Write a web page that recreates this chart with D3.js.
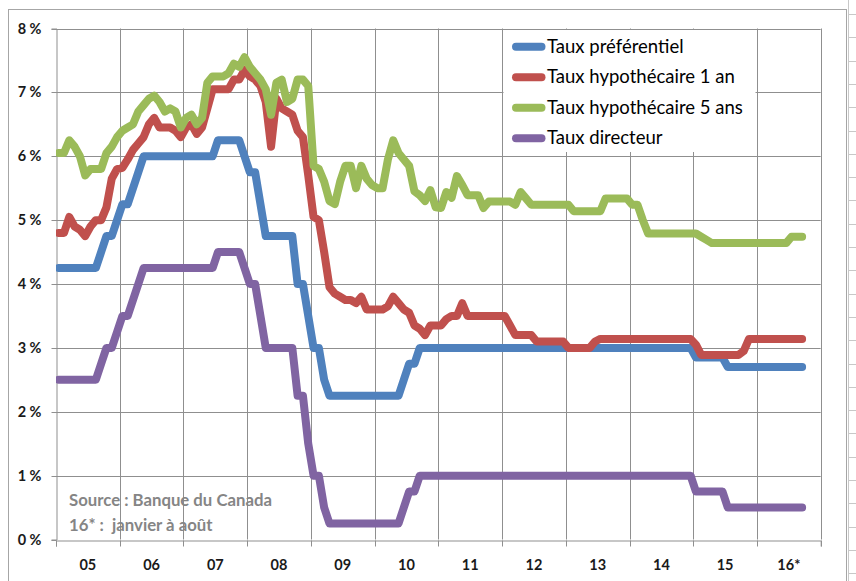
<!DOCTYPE html>
<html>
<head>
<meta charset="utf-8">
<script src="https://cdn.jsdelivr.net/npm/d3@7"></script>
<style>
  html, body { margin: 0; padding: 0; background: #fff; }
  svg { display: block; }
</style>
</head>
<body>
<svg id="chart" width="856" height="581"></svg>
<script>
// ---------------- DATA ----------------
// Monthly values, January 2005 onward (one row per year)
const startYear = 2005;
const yearLabels = ["05","06","07","08","09","10","11","12","13","14","15","16*"];
const yTickValues = [0,1,2,3,4,5,6,7,8];
const yTickLabels = ["0 %","1 %","2 %","3 %","4 %","5 %","6 %","7 %","8 %"];
const seriesNames = ["Taux préférentiel","Taux hypothécaire 1 an","Taux hypothécaire 5 ans","Taux directeur"];
const seriesColors = ["#4F81BD","#C0504D","#9BBB59","#8064A2"];

const tauxPreferentiel = [
  4.25,4.25,4.25,4.25,4.25,4.25,4.25,4.25,4.5,4.75,4.75,5.0,
  5.25,5.25,5.5,5.75,6.0,6.0,6.0,6.0,6.0,6.0,6.0,6.0,
  6.0,6.0,6.0,6.0,6.0,6.0,6.25,6.25,6.25,6.25,6.25,6.0,
  5.75,5.75,5.25,4.75,4.75,4.75,4.75,4.75,4.75,4.0,4.0,3.5,
  3.0,3.0,2.5,2.25,2.25,2.25,2.25,2.25,2.25,2.25,2.25,2.25,
  2.25,2.25,2.25,2.25,2.25,2.5,2.75,2.75,3.0,3.0,3.0,3.0,
  3.0,3.0,3.0,3.0,3.0,3.0,3.0,3.0,3.0,3.0,3.0,3.0,
  3.0,3.0,3.0,3.0,3.0,3.0,3.0,3.0,3.0,3.0,3.0,3.0,
  3.0,3.0,3.0,3.0,3.0,3.0,3.0,3.0,3.0,3.0,3.0,3.0,
  3.0,3.0,3.0,3.0,3.0,3.0,3.0,3.0,3.0,3.0,3.0,3.0,
  2.85,2.85,2.85,2.85,2.85,2.85,2.7,2.7,2.7,2.7,2.7,2.7,
  2.7,2.7,2.7,2.7,2.7,2.7,2.7,2.7,2.7
];
const tauxHypo1an = [
  4.8,4.8,5.05,4.9,4.85,4.75,4.9,5.0,5.0,5.2,5.65,5.8,
  5.82,5.95,6.1,6.2,6.3,6.5,6.6,6.45,6.45,6.45,6.4,6.3,
  6.45,6.5,6.35,6.45,6.75,7.05,7.05,7.05,7.05,7.2,7.2,7.35,
  7.25,7.2,7.1,6.85,6.15,6.9,6.75,6.7,6.65,6.4,6.3,5.7,
  5.05,5.0,4.5,3.95,3.85,3.8,3.75,3.75,3.7,3.8,3.6,3.6,
  3.6,3.6,3.65,3.8,3.7,3.6,3.55,3.35,3.3,3.2,3.35,3.35,
  3.35,3.45,3.5,3.5,3.7,3.5,3.5,3.5,3.5,3.5,3.5,3.5,
  3.5,3.35,3.2,3.2,3.2,3.2,3.1,3.1,3.1,3.1,3.1,3.1,
  3.0,3.0,3.0,3.0,3.0,3.1,3.14,3.14,3.14,3.14,3.14,3.14,
  3.14,3.14,3.14,3.14,3.14,3.14,3.14,3.14,3.14,3.14,3.14,3.14,
  3.05,2.89,2.89,2.89,2.89,2.89,2.89,2.89,2.89,2.95,3.14,3.14,
  3.14,3.14,3.14,3.14,3.14,3.14,3.14,3.14,3.14
];
const tauxHypo5ans = [
  6.05,6.05,6.25,6.15,6.0,5.7,5.8,5.8,5.8,6.05,6.15,6.3,
  6.4,6.45,6.5,6.7,6.8,6.9,6.95,6.85,6.7,6.75,6.7,6.45,
  6.6,6.65,6.5,6.6,7.15,7.25,7.25,7.25,7.3,7.45,7.4,7.55,
  7.4,7.3,7.2,7.05,6.65,7.15,7.2,6.85,6.9,7.2,7.2,7.1,
  5.85,5.8,5.6,5.3,5.25,5.6,5.85,5.85,5.5,5.85,5.65,5.55,
  5.5,5.5,5.95,6.25,6.05,5.95,5.85,5.45,5.39,5.3,5.47,5.2,
  5.19,5.44,5.35,5.69,5.55,5.39,5.39,5.39,5.19,5.29,5.29,5.29,
  5.29,5.29,5.24,5.44,5.34,5.24,5.24,5.24,5.24,5.24,5.24,5.24,
  5.24,5.14,5.14,5.14,5.14,5.14,5.14,5.34,5.34,5.34,5.34,5.34,
  5.24,5.24,5.0,4.79,4.79,4.79,4.79,4.79,4.79,4.79,4.79,4.79,
  4.79,4.74,4.69,4.64,4.64,4.64,4.64,4.64,4.64,4.64,4.64,4.64,
  4.64,4.64,4.64,4.64,4.64,4.64,4.74,4.74,4.74
];
const tauxDirecteur = [
  2.5,2.5,2.5,2.5,2.5,2.5,2.5,2.5,2.75,3.0,3.0,3.25,
  3.5,3.5,3.75,4.0,4.25,4.25,4.25,4.25,4.25,4.25,4.25,4.25,
  4.25,4.25,4.25,4.25,4.25,4.25,4.5,4.5,4.5,4.5,4.5,4.25,
  4.0,4.0,3.5,3.0,3.0,3.0,3.0,3.0,3.0,2.25,2.25,1.5,
  1.0,1.0,0.5,0.25,0.25,0.25,0.25,0.25,0.25,0.25,0.25,0.25,
  0.25,0.25,0.25,0.25,0.25,0.5,0.75,0.75,1.0,1.0,1.0,1.0,
  1.0,1.0,1.0,1.0,1.0,1.0,1.0,1.0,1.0,1.0,1.0,1.0,
  1.0,1.0,1.0,1.0,1.0,1.0,1.0,1.0,1.0,1.0,1.0,1.0,
  1.0,1.0,1.0,1.0,1.0,1.0,1.0,1.0,1.0,1.0,1.0,1.0,
  1.0,1.0,1.0,1.0,1.0,1.0,1.0,1.0,1.0,1.0,1.0,1.0,
  0.75,0.75,0.75,0.75,0.75,0.75,0.5,0.5,0.5,0.5,0.5,0.5,
  0.5,0.5,0.5,0.5,0.5,0.5,0.5,0.5,0.5
];
const sourceLines = ["Source : Banque du Canada", "16* :  janvier à août"];

// ---------------- CHART ----------------
const svg = d3.select("#chart");
const FONT = "Lato, 'Open Sans', 'DejaVu Sans', sans-serif";
const plot = { left: 56, right: 820.7, top: 28.5, bottom: 539.5 };

const x = d3.scaleLinear().domain([startYear, startYear + yearLabels.length]).range([plot.left, plot.right]);
const y = d3.scaleLinear().domain([0, 8]).range([plot.bottom, plot.top]);

// outer frame
svg.append("rect").attr("x", 8.5).attr("y", 9.5).attr("width", 838).attr("height", 600)
  .attr("fill", "#fff").attr("stroke", "#a6a6a6").attr("stroke-width", 1);
// ruler-like artifact at far right
const rg = svg.append("g").attr("stroke", "#c8c8c8");
rg.append("line").attr("x1", 848.5).attr("x2", 848.5).attr("y1", 0).attr("y2", 581);
d3.range(14, 581, 23.3).forEach(v => rg.append("line").attr("x1", 849).attr("x2", 856).attr("y1", Math.round(v)+0.5).attr("y2", Math.round(v)+0.5));

const gridColor = "#8f8f8f";
// horizontal gridlines
svg.append("g").selectAll("line").data(yTickValues.filter(v => v > 0)).join("line")
  .attr("x1", plot.left).attr("x2", plot.right)
  .attr("y1", d => Math.round(y(d)) + 0.5).attr("y2", d => Math.round(y(d)) + 0.5)
  .attr("stroke", gridColor).attr("stroke-width", 1);
// vertical gridlines
const yearBounds = d3.range(startYear, startYear + yearLabels.length + 1);
svg.append("g").selectAll("line").data(yearBounds.slice(1)).join("line")
  .attr("x1", d => Math.round(x(d)) + 0.5).attr("x2", d => Math.round(x(d)) + 0.5)
  .attr("y1", plot.top).attr("y2", plot.bottom)
  .attr("stroke", gridColor).attr("stroke-width", 1);

// y axis
const yAxis = svg.append("g").attr("transform", `translate(${plot.left + 0.5},0)`)
  .call(d3.axisLeft(y).tickValues(yTickValues).tickSize(5).tickPadding(10)
    .tickFormat((d, i) => yTickLabels[i]));
yAxis.select(".domain").attr("stroke", gridColor);
yAxis.selectAll(".tick line").attr("stroke", gridColor);
yAxis.selectAll(".tick text").attr("font-family", FONT).attr("font-weight", "bold")
  .attr("font-size", 14.5).attr("fill", "#1a1a1a");
yAxis.selectAll(".tick").attr("transform", d => `translate(0,${Math.round(y(d)) + 0.5})`);

// x axis
const xAxis = svg.append("g").attr("transform", `translate(0,${Math.round(plot.bottom) + 0.5})`)
  .call(d3.axisBottom(x).tickValues(yearBounds).tickSize(6).tickFormat(""));
xAxis.select(".domain").attr("stroke", gridColor);
xAxis.selectAll(".tick line").attr("stroke", gridColor);
xAxis.selectAll(".tick").attr("transform", d => `translate(${Math.round(x(d)) + 0.5},0)`);
svg.append("g").selectAll("text").data(yearLabels).join("text")
  .attr("x", (d, i) => x(startYear + i + 0.5)).attr("y", 570)
  .attr("text-anchor", "middle").attr("font-family", FONT).attr("font-weight", "bold")
  .attr("font-size", 14.5).attr("fill", "#1a1a1a").text(d => d);

// source note
const src = svg.append("g").selectAll("text").data(sourceLines).join("text")
  .attr("x", 69).attr("y", (d, i) => 506 + i * 25)
  .attr("font-family", FONT).attr("font-weight", "bold").attr("font-size", 17)
  .attr("fill", "#858585").attr("xml:space", "preserve").text(d => d);
{
  const w = src.nodes()[0].getComputedTextLength();
  src.attr("font-size", 17 * 203 / w);
}

// series lines
const series = [tauxPreferentiel, tauxHypo1an, tauxHypo5ans, tauxDirecteur];
svg.append("clipPath").attr("id", "clip").append("rect")
  .attr("x", plot.left).attr("y", 0).attr("width", 856 - plot.left).attr("height", 581);
const line = d3.line()
  .x((d, i) => x(startYear + (i + 0.5) / 12))
  .y(d => y(d));
svg.append("g").attr("clip-path", "url(#clip)").selectAll("path").data(series).join("path")
  .attr("d", d => line(d)).attr("fill", "none")
  .attr("stroke", (d, i) => seriesColors[i]).attr("stroke-width", 8)
  .attr("stroke-linejoin", "round").attr("stroke-linecap", "round");

// legend
const lg = svg.append("g");
lg.append("rect").attr("x", 503.5).attr("y", 30).attr("width", 252).attr("height", 122).attr("fill", "#fff");
const rowY = [46.7, 77.2, 107.7, 138.2];
lg.selectAll("line").data(seriesNames).join("line")
  .attr("x1", 516).attr("x2", 541.5).attr("y1", (d, i) => rowY[i]).attr("y2", (d, i) => rowY[i])
  .attr("stroke", (d, i) => seriesColors[i]).attr("stroke-width", 8).attr("stroke-linecap", "round");
const lt = lg.selectAll("text").data(seriesNames).join("text")
  .attr("x", 547).attr("y", (d, i) => rowY[i] + 6)
  .attr("font-family", FONT).attr("font-size", 16).attr("fill", "#000").text(d => d);
{
  const w = lt.nodes()[2].getComputedTextLength();
  lt.attr("font-size", 16 * 196 / w);
}
</script>
</body>
</html>
